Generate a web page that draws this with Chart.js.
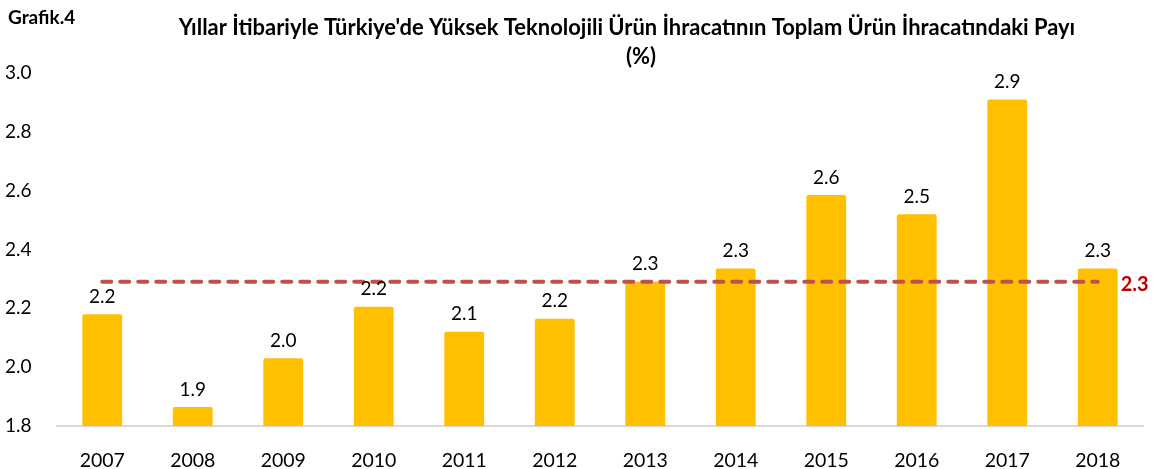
<!DOCTYPE html>
<html><head><meta charset="utf-8">
<script src="https://cdn.jsdelivr.net/npm/chart.js@4/dist/chart.umd.min.js"></script>
<style>html,body{margin:0;padding:0;background:#fff}#wrap{width:1153px;height:469px;position:relative}</style>
</head><body><div id="wrap"><canvas id="c" width="1153" height="469"></canvas></div>
<script>
const years = ['2007','2008','2009','2010','2011','2012','2013','2014','2015','2016','2017','2018'];
const shares = [2.18,1.865,2.03,2.205,2.12,2.165,2.29,2.335,2.585,2.52,2.91,2.335];
const shareLabels = ['2.2','1.9','2.0','2.2','2.1','2.2','2.3','2.3','2.6','2.5','2.9','2.3'];
const averageValue = 2.29;
const averageLabel = '2.3';
const averageLine = years.map(() => averageValue);
const yTicks = [1.8,2.0,2.2,2.4,2.6,2.8,3.0];
const chartLabel = 'Grafik.4';
const titleLines = ["Yıllar İtibariyle Türkiye'de Yüksek Teknolojili Ürün İhracatının Toplam Ürün İhracatındaki Payı", '(%)'];

const FONT = 'Lato, "Noto Sans", sans-serif';

const deco = {
  id: 'deco',
  afterDatasetsDraw(chart) {
    const ctx = chart.ctx;
    ctx.save();
    const meta = chart.getDatasetMeta(1);
    ctx.font = '19px ' + FONT;
    ctx.fillStyle = '#000';
    ctx.textAlign = 'center';
    ctx.textBaseline = 'bottom';
    meta.data.forEach((el, i) => {
      ctx.fillText(shareLabels[i], el.x, el.y - 8);
    });
    const lm = chart.getDatasetMeta(0);
    const last = lm.data[lm.data.length - 1];
    ctx.font = 'bold 20px ' + FONT;
    ctx.fillStyle = '#C00000';
    ctx.textAlign = 'left';
    ctx.textBaseline = 'middle';
    ctx.fillText(averageLabel, last.x + 23, last.y + 3);
    ctx.fillStyle = '#000';
    ctx.font = 'bold 19px ' + FONT;
    ctx.fillText(chartLabel, 8, 18);
    let size = 15;
    ctx.font = 'bold ' + size + 'px ' + FONT;
    const w = ctx.measureText(titleLines[0]).width;
    size = size * 897 / w;
    ctx.font = 'bold ' + size.toFixed(2) + 'px ' + FONT;
    ctx.textAlign = 'center';
    ctx.fillText(titleLines[0], 627, 28);
    ctx.fillText(titleLines[1], 641, 57);
    ctx.restore();
  }
};

new Chart(document.getElementById('c'), {
  data: {
    labels: years,
    datasets: [
      {
        type: 'line', data: averageLine, order: 0,
        borderColor: '#C0504D', borderWidth: 4, borderDash: [9, 9],
        borderCapStyle: 'round', pointRadius: 0, fill: false
      },
      {
        type: 'bar', data: shares, order: 1,
        backgroundColor: '#FFC000', borderRadius: 2, borderSkipped: 'bottom',
        categoryPercentage: 1, barPercentage: 0.44, base: 1.8
      }
    ]
  },
  options: {
    responsive: false, animation: false,
    layout: { padding: { top: 73, right: 10, left: 5, bottom: 0 } },
    plugins: { legend: { display: false }, title: { display: false }, tooltip: { enabled: false } },
    scales: {
      x: {
        afterFit(scale) { scale.height = 43; },
        grid: { display: false, drawTicks: false },
        border: { display: true, color: '#D9D9D9', width: 2 },
        ticks: { font: { family: FONT, size: 19.5 }, color: '#000', padding: 23 }
      },
      y: {
        min: 1.8, max: 3.0,
        afterBuildTicks(scale) { scale.ticks = yTicks.map(v => ({ value: v })); },
        afterFit(scale) { scale.width = 52; },
        grid: { display: false, drawTicks: false },
        border: { display: false },
        ticks: {
          font: { family: FONT, size: 19 }, color: '#000', crossAlign: 'far', padding: 0,
          callback: v => Number(v).toFixed(1)
        }
      }
    }
  },
  plugins: [deco]
});
</script></body></html>
